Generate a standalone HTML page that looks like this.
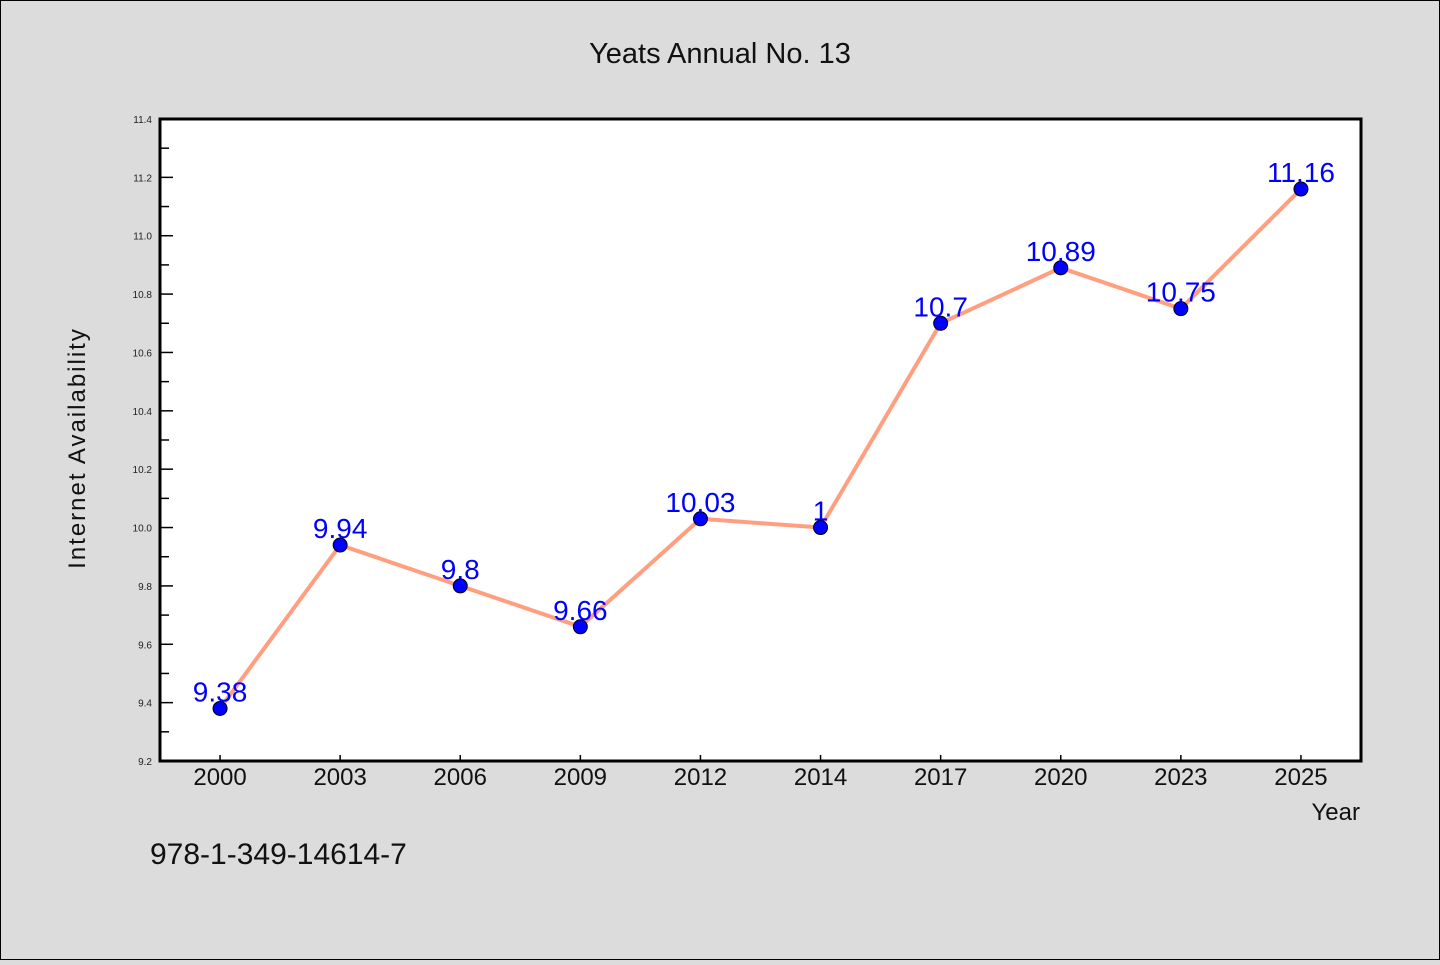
<!DOCTYPE html>
<html><head><meta charset="utf-8"><style>
html,body{margin:0;padding:0;background:#dcdcdc;}
svg text{font-family:"WenQuanYi Zen Hei","Liberation Sans",sans-serif;}
</style></head><body>
<svg id="chart" width="1440" height="960" xmlns="http://www.w3.org/2000/svg">
<rect x="0.5" y="0.5" width="1439" height="959" fill="#dcdcdc" stroke="#000" stroke-width="1"/>
<text x="720" y="63" text-anchor="middle" font-size="29" fill="#111">Yeats Annual No. 13</text>
<rect x="160" y="119" width="1201" height="642" fill="#fff"/>
<g id="ticks"></g>
<g id="series"></g>
<rect x="160" y="119" width="1201" height="642" fill="none" stroke="#000" stroke-width="3"/>
<text x="85" y="448" transform="rotate(-90 85 448)" text-anchor="middle" font-size="24" fill="#111" letter-spacing="2">Internet Availability</text>
<text x="1360" y="820" text-anchor="end" font-size="24" fill="#111">Year</text>
<text x="150" y="864" font-size="30" fill="#111">978-1-349-14614-7</text>
</svg>
<script>
const categories = ["2000","2003","2006","2009","2012","2014","2017","2020","2023","2025"];
const values = [9.38,9.94,9.8,9.66,10.03,10.0,10.7,10.89,10.75,11.16];
const valueLabels = ["9.38","9.94","9.8","9.66","10.03","1","10.7","10.89","10.75","11.16"];
const yTicks = [9.2,9.4,9.6,9.8,10.0,10.2,10.4,10.6,10.8,11.0,11.2,11.4];
const yMin = 9.2, yMax = 11.4;
const L=160,R=1361,T=119,B=761;
const NS="http://www.w3.org/2000/svg";
const band=(R-L)/categories.length;
function xPos(i){return L+band*(i+0.5);}
function yPos(v){return B-(v-yMin)/(yMax-yMin)*(B-T);}
function mk(tag,attrs,parent){const e=document.createElementNS(NS,tag);for(const k in attrs)e.setAttribute(k,attrs[k]);parent.appendChild(e);return e;}
const tg=document.getElementById('ticks'), sg=document.getElementById('series');
yTicks.forEach((v,i)=>{
  const y=yPos(v);
  const t=mk('line',{x1:L,x2:L+13,y1:y,y2:y,stroke:'#000','stroke-width':1.5},tg);
  
  
  const lb=mk('text',{x:L-8,y:y+4,'text-anchor':'end','font-size':10,fill:'#222'},tg);
  lb.textContent=v.toFixed(1);
  
  
  if(i<yTicks.length-1){
    const ym=yPos(v+(yTicks[i+1]-v)/2);
    const m=mk('line',{x1:L,x2:L+9,y1:ym,y2:ym,stroke:'#000','stroke-width':1.5},tg);
    
    
  }
});
categories.forEach((c,i)=>{
  const x=xPos(i);
  const t=mk('line',{x1:x,x2:x,y1:B,y2:B-6,stroke:'#000','stroke-width':1.5},tg);
  
  
  const lb=mk('text',{x:x,y:B+24,'text-anchor':'middle','font-size':24,fill:'#111'},tg);
  lb.textContent=c;
  
  
});
const pts=values.map((v,i)=>xPos(i)+','+yPos(v)).join(' ');
const line=mk('polyline',{points:pts,fill:'none',stroke:'#ff9f80','stroke-width':4,'stroke-linejoin':'round'},sg);


values.forEach((v,i)=>{
  const c=mk('circle',{cx:xPos(i),cy:yPos(v),r:7,fill:'#0000ff',stroke:'#000','stroke-width':1},sg);
  
  
});
values.forEach((v,i)=>{
  const t=mk('text',{x:xPos(i),y:yPos(v)-7,'text-anchor':'middle','font-size':28,fill:'#0000ff'},sg);
  t.textContent=valueLabels[i];
  
  
});
</script>
</body></html>
